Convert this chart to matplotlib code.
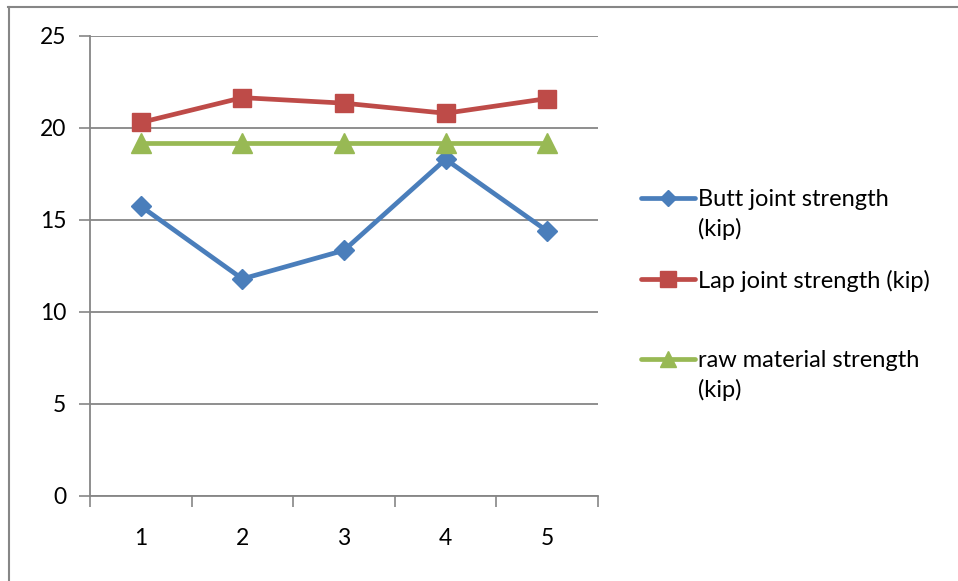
import matplotlib
matplotlib.use("Agg")
import matplotlib.pyplot as plt
from matplotlib.lines import Line2D

plt.rcParams['font.family'] = ['Lato', 'DejaVu Sans']

samples = [1, 2, 3, 4, 5]
butt_joint = [15.75, 11.8, 13.35, 18.3, 14.4]
lap_joint = [20.3, 21.65, 21.35, 20.8, 21.6]
raw_material = [19.2, 19.2, 19.2, 19.2, 19.2]
y_ticks = [0, 5, 10, 15, 20, 25]

series_labels = ["Butt joint strength\n(kip)",
                 "Lap joint strength (kip)",
                 "raw material strength\n(kip)"]

BLUE = "#4A7EBB"
RED = "#BE4B48"
GREEN = "#98B954"
GRID = "#868686"

W, H = 958, 581
fig = plt.figure(figsize=(W / 100, H / 100), dpi=100)
ax = fig.add_axes([90 / W, (H - 496) / H, (598 - 90) / W, (496 - 36) / H])

styles = [
    (butt_joint, BLUE, "D", 10),
    (lap_joint, RED, "s", 13),
    (raw_material, GREEN, "^", 14),
]
for vals, col, mk, ms in styles:
    ax.plot(samples, vals, color=col, lw=3.4, marker=mk, markersize=ms,
            markerfacecolor=col, markeredgecolor=col, solid_capstyle="round",
            zorder=3)

ax.set_xlim(0.5, 5.5)
ax.set_ylim(0, 25)
ax.set_yticks(y_ticks)
ax.set_xticks(samples)
ax.set_xticks([0.5, 1.5, 2.5, 3.5, 4.5, 5.5], minor=True)
ax.tick_params(axis="x", which="major", length=0, pad=23, labelsize=16.5)
ax.tick_params(axis="x", which="minor", length=8, width=1.2, color=GRID,
               direction="out")
ax.tick_params(axis="y", length=8, width=1.2, color=GRID, pad=9,
               labelsize=16.5)
ax.yaxis.grid(True, color=GRID, lw=1.3)
ax.set_axisbelow(True)
for side in ("top", "right"):
    ax.spines[side].set_visible(False)
for side in ("left", "bottom"):
    ax.spines[side].set_color(GRID)
    ax.spines[side].set_linewidth(1.3)

# legend drawn at fixed positions in figure pixels
def fx(px):
    return px / W

def fy(py):
    return 1 - py / H

legend_rows = [(198, BLUE, "D", 8), (279, RED, "s", 11), (359, GREEN, "^", 11)]
for (py, col, mk, ms), label in zip(legend_rows, series_labels):
    fig.add_artist(Line2D([fx(641), fx(695)], [fy(py), fy(py)], color=col,
                          lw=3.4, solid_capstyle="round",
                          transform=fig.transFigure))
    fig.add_artist(Line2D([fx(668)], [fy(py)], color=col, marker=mk,
                          markersize=ms, markerfacecolor=col,
                          markeredgecolor=col, transform=fig.transFigure))
    fig.text(fx(698), fy(py - 9), label, ha="left", va="top", fontsize=17,
             linespacing=1.45, color="black")

# outer chart frame
fig.add_artist(Line2D([fx(8.5), fx(8.5)], [fy(7), 0], color=GRID, lw=1.5,
                      transform=fig.transFigure))
fig.add_artist(Line2D([fx(8), 1], [fy(7), fy(7)], color=GRID, lw=1.5,
                      transform=fig.transFigure))

fig.savefig("out.png", dpi=100)
